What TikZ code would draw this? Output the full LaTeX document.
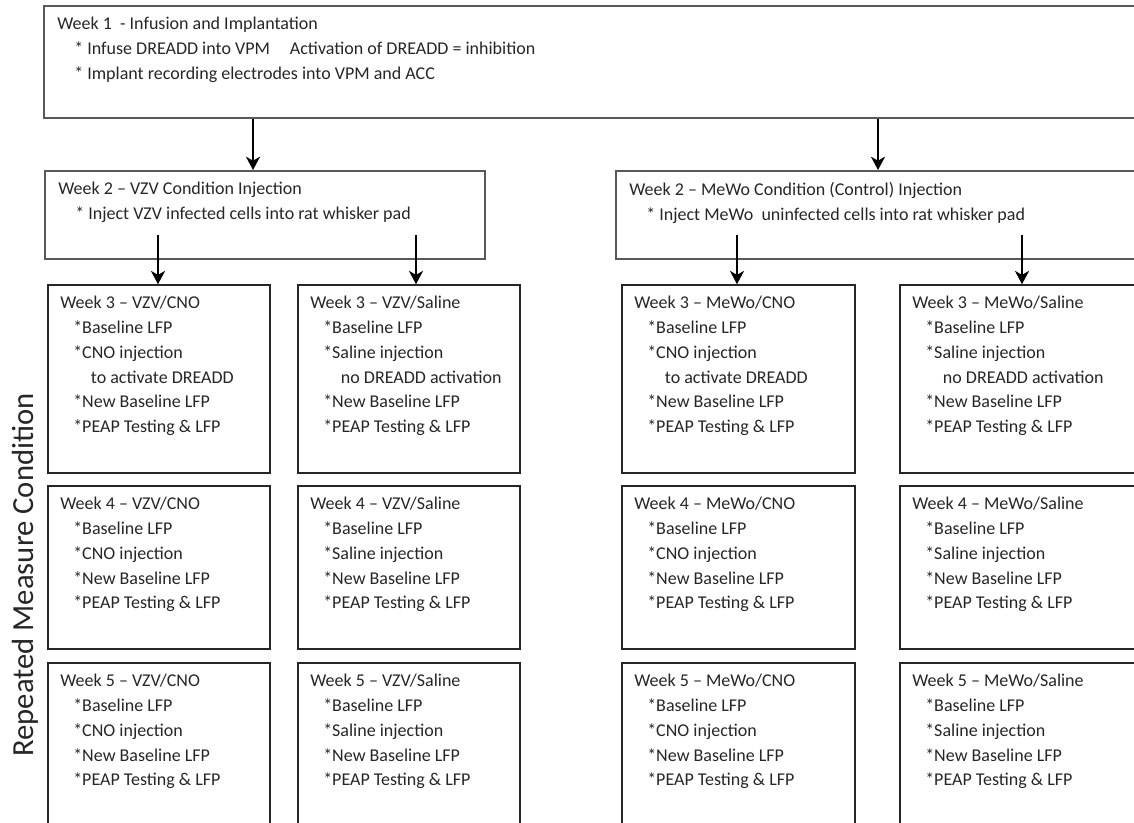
\documentclass[tikz,border=0pt]{standalone}
\usepackage{fontspec}
\setmainfont{Carlito}
\usetikzlibrary{arrows.meta,fit}

\tikzset{
  topbox/.style={draw=black!65, line width=1.4pt, inner sep=0pt},
  wbox/.style={draw=black!85, line width=1.1pt, inner sep=0pt},
  txt/.style={anchor=north west, align=left, inner sep=0pt, text=black!85,
    font=\fontsize{13.5pt}{18.6pt}\selectfont},
  arr/.style={-{Stealth[length=10pt,width=10.5pt,inset=3pt]}, line width=2pt},
}
\newcommand{\itemind}{\hspace*{9.75pt}}
\newcommand{\contind}{\hspace*{23pt}}

\begin{document}
\begin{tikzpicture}[x=0.75pt, y=-0.75pt]
\useasboundingbox (0,0) rectangle (1134,823);
\clip (0,0) rectangle (1134,823);

% week 1
\node [topbox, fit={(44,6) (1160,118)}] (w1) {};
\node [txt] (t1) at (57,17) {Week 1\ \ - Infusion and Implantation\\
  \hspace*{12.75pt}* Infuse DREADD into VPM\hspace{15pt}Activation of DREADD = inhibition\\
  \hspace*{12.75pt}* Implant recording electrodes into VPM and ACC};

% week 2
\node [topbox, fit={(45,171) (485,259)}] (w2v) {};
\node [txt] (t2v) at (58,182) {Week 2 – VZV Condition Injection\\
  \hspace*{12.75pt}* Inject VZV infected cells into rat whisker pad};
\node [topbox, fit={(616,171) (1160,259)}] (w2m) {};
\node [txt] (t2m) at (629,182) {Week 2 – MeWo Condition (Control) Injection\\
  \hspace*{12.75pt}* Inject MeWo\ \ uninfected cells into rat whisker pad};

\draw [arr] (253,0 |- w1.south) -- (253,0 |- w2v.north);
\draw [arr] (878,0 |- w1.south) -- (878,0 |- w2m.north);

% week 3
\node [wbox, fit={(48,285) (270,473)}] (w3vc) {};
\node [txt] (t3vc) at (60,296) {Week 3 – VZV/CNO\\ \itemind*Baseline LFP\\ \itemind*CNO injection\\
  \contind to activate DREADD\\ \itemind*New Baseline LFP\\ \itemind*PEAP Testing \& LFP};
\node [wbox, fit={(298,285) (520,473)}] (w3vs) {};
\node [txt] (t3vs) at (310,296) {Week 3 – VZV/Saline\\ \itemind*Baseline LFP\\ \itemind*Saline injection\\
  \contind no DREADD activation\\ \itemind*New Baseline LFP\\ \itemind*PEAP Testing \& LFP};
\node [wbox, fit={(622,285) (855,473)}] (w3mc) {};
\node [txt] (t3mc) at (634,296) {Week 3 – MeWo/CNO\\ \itemind*Baseline LFP\\ \itemind*CNO injection\\
  \contind to activate DREADD\\ \itemind*New Baseline LFP\\ \itemind*PEAP Testing \& LFP};
\node [wbox, fit={(900,285) (1160,473)}] (w3ms) {};
\node [txt] (t3ms) at (912,296) {Week 3 – MeWo/Saline\\ \itemind*Baseline LFP\\ \itemind*Saline injection\\
  \contind no DREADD activation\\ \itemind*New Baseline LFP\\ \itemind*PEAP Testing \& LFP};

\coordinate (s1) at (158,235);
\coordinate (s2) at (416,235);
\coordinate (s3) at (737,235);
\coordinate (s4) at (1022,235);
\draw [arr] (s1) -- (s1 |- w3vc.north);
\draw [arr] (s2) -- (s2 |- w3vs.north);
\draw [arr] (s3) -- (s3 |- w3mc.north);
\draw [arr] (s4) -- (s4 |- w3ms.north);

% week 4
\node [wbox, fit={(48,486) (270,649)}] (w4vc) {};
\node [txt] (t4vc) at (60,497) {Week 4 – VZV/CNO\\ \itemind*Baseline LFP\\ \itemind*CNO injection\\
  \itemind*New Baseline LFP\\ \itemind*PEAP Testing \& LFP};
\node [wbox, fit={(298,486) (520,649)}] (w4vs) {};
\node [txt] (t4vs) at (310,497) {Week 4 – VZV/Saline\\ \itemind*Baseline LFP\\ \itemind*Saline injection\\
  \itemind*New Baseline LFP\\ \itemind*PEAP Testing \& LFP};
\node [wbox, fit={(622,486) (855,649)}] (w4mc) {};
\node [txt] (t4mc) at (634,497) {Week 4 – MeWo/CNO\\ \itemind*Baseline LFP\\ \itemind*CNO injection\\
  \itemind*New Baseline LFP\\ \itemind*PEAP Testing \& LFP};
\node [wbox, fit={(900,486) (1160,649)}] (w4ms) {};
\node [txt] (t4ms) at (912,497) {Week 4 – MeWo/Saline\\ \itemind*Baseline LFP\\ \itemind*Saline injection\\
  \itemind*New Baseline LFP\\ \itemind*PEAP Testing \& LFP};

% week 5
\node [wbox, fit={(48,663) (270,850)}] (w5vc) {};
\node [txt] (t5vc) at (60,674) {Week 5 – VZV/CNO\\ \itemind*Baseline LFP\\ \itemind*CNO injection\\
  \itemind*New Baseline LFP\\ \itemind*PEAP Testing \& LFP};
\node [wbox, fit={(298,663) (520,850)}] (w5vs) {};
\node [txt] (t5vs) at (310,674) {Week 5 – VZV/Saline\\ \itemind*Baseline LFP\\ \itemind*Saline injection\\
  \itemind*New Baseline LFP\\ \itemind*PEAP Testing \& LFP};
\node [wbox, fit={(622,663) (855,850)}] (w5mc) {};
\node [txt] (t5mc) at (634,674) {Week 5 – MeWo/CNO\\ \itemind*Baseline LFP\\ \itemind*CNO injection\\
  \itemind*New Baseline LFP\\ \itemind*PEAP Testing \& LFP};
\node [wbox, fit={(900,663) (1160,850)}] (w5ms) {};
\node [txt] (t5ms) at (912,674) {Week 5 – MeWo/Saline\\ \itemind*Baseline LFP\\ \itemind*Saline injection\\
  \itemind*New Baseline LFP\\ \itemind*PEAP Testing \& LFP};

% side label
\node [rotate=90, text=black!85, font=\fontsize{23pt}{27pt}\selectfont] (rmc) at (25,575) {Repeated Measure Condition};
\end{tikzpicture}
\end{document}
